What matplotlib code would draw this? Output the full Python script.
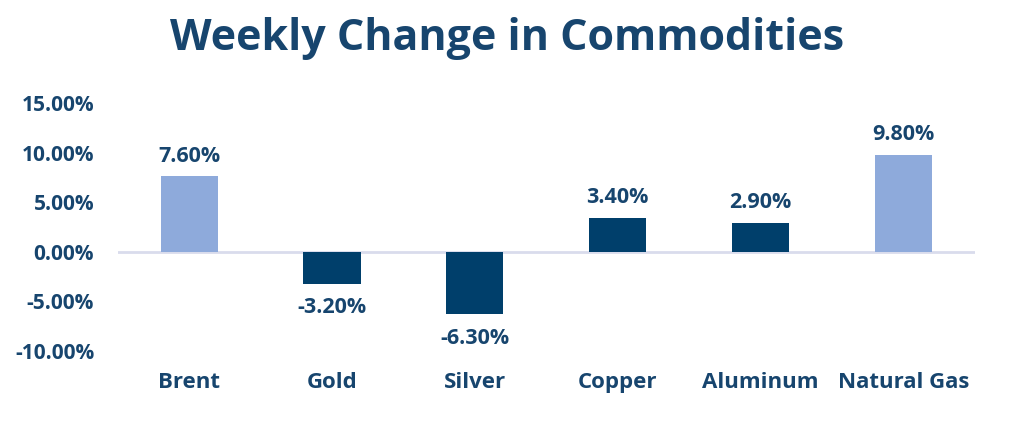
import matplotlib.pyplot as plt
import numpy as np

plt.rcParams['font.family'] = ['Open Sans', 'DejaVu Sans']

commodities = ["Brent", "Gold", "Silver", "Copper", "Aluminum", "Natural Gas"]
weekly_change = [7.6, -3.2, -6.3, 3.4, 2.9, 9.8]
bar_colors = ["#8eaadb", "#003f6b", "#003f6b", "#003f6b", "#003f6b", "#8eaadb"]
yticks = [-10, -5, 0, 5, 10, 15]

text_color = "#17456e"

fig = plt.figure(figsize=(10.24, 4.23), dpi=100)
ax = fig.add_axes([0.115, 0.17, 0.837, 0.5865])

x = np.arange(len(commodities))
ax.bar(x, weekly_change, width=0.4, color=bar_colors, zorder=2)
ax.axhline(0, color="#d9dcec", linewidth=2, zorder=1)

for xi, val in zip(x, weekly_change):
    if val >= 0:
        ax.annotate(f"{val:.2f}%", (xi, val), xytext=(0, 7), textcoords="offset points",
                    ha="center", va="bottom", fontsize=15.5, fontweight="bold", color=text_color)
    else:
        ax.annotate(f"{val:.2f}%", (xi, val), xytext=(0, -10), textcoords="offset points",
                    ha="center", va="top", fontsize=15.5, fontweight="bold", color=text_color)

ax.set_xlim(-0.5, len(commodities) - 0.5)
ax.set_ylim(-10, 15)
ax.set_yticks(yticks)
ax.set_yticklabels([f"{t:.2f}%" for t in yticks])
ax.set_xticks(x)
ax.set_xticklabels(commodities)
ax.tick_params(axis="y", length=0, labelsize=15, labelcolor=text_color, pad=17)
ax.tick_params(axis="x", length=0, labelsize=16, labelcolor=text_color, pad=15)
for lbl in ax.get_xticklabels() + ax.get_yticklabels():
    lbl.set_fontweight("bold")
for spine in ax.spines.values():
    spine.set_visible(False)

fig.text(0.495, 0.91, "Weekly Change in Commodities", ha="center", va="center",
         fontsize=31, fontweight="bold", color=text_color)

fig.savefig("out.png", dpi=100)
